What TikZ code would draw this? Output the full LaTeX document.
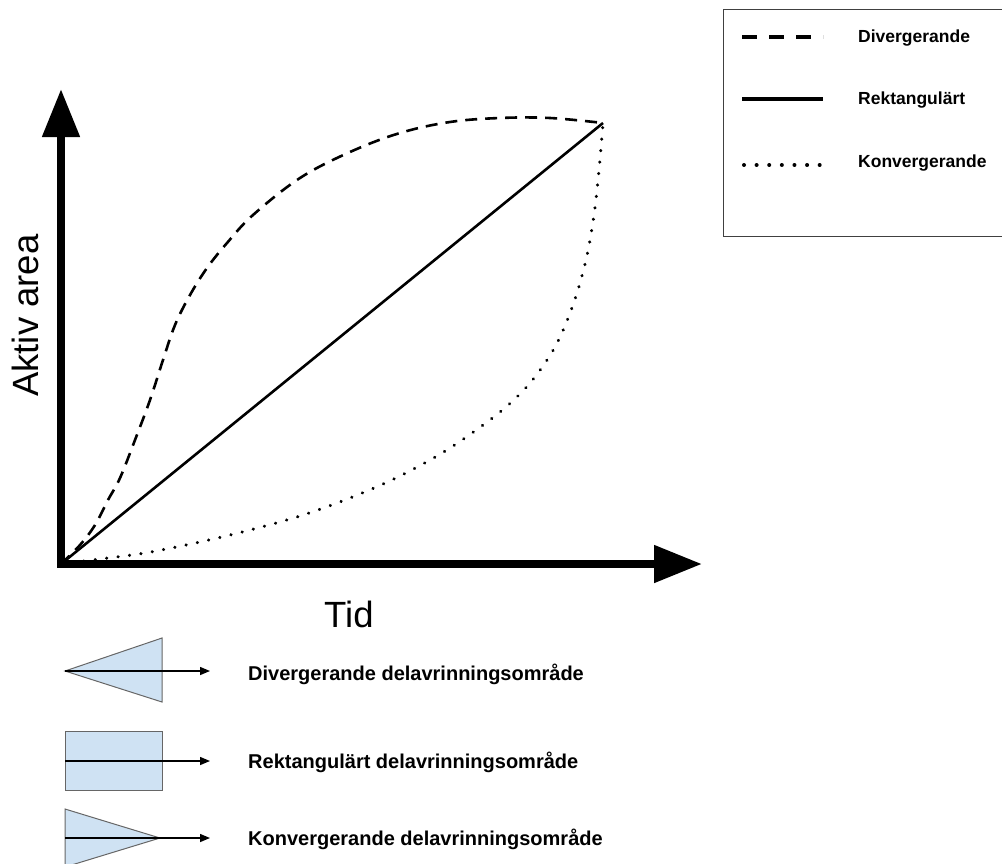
\documentclass[tikz,border=0pt]{standalone}
\usepackage{fontspec}
\setmainfont{Liberation Sans}
\usetikzlibrary{arrows.meta}
\definecolor{shapefill}{HTML}{CFE2F3}
\definecolor{shapeline}{HTML}{666666}
\tikzset{
  axisline/.style={line width=8pt, line join=miter,
    {Triangle[length=48pt,width=36pt]}-{Triangle[length=48pt,width=36pt]}},
  curve/.style={line width=2.6pt},
  divcurve/.style={curve, dash pattern=on 12pt off 8pt},
  konvcurve/.style={line width=3.4pt, line cap=round, dash pattern=on 0.01pt off 11.5pt},
  legdash/.style={line width=4pt, dash pattern=on 15pt off 12pt},
  legsolid/.style={line width=4pt},
  legdot/.style={line width=4pt, line cap=round, dash pattern=on 0.01pt off 12.6pt},
  legtext/.style={anchor=base west, inner sep=0pt, font=\bfseries\fontsize{17.5}{20}\selectfont},
  captext/.style={anchor=base west, inner sep=0pt, font=\bfseries\fontsize{20}{23}\selectfont},
  axistext/.style={anchor=base west, inner sep=0pt, font=\fontsize{36.5}{40}\selectfont},
  catchment/.style={fill=shapefill, draw=shapeline, line width=1pt},
  flow/.style={line width=1.4pt, -{Triangle[length=10pt,width=8pt]}}
}
\begin{document}
\begin{tikzpicture}[x=1pt, y=-1pt]
\useasboundingbox (0,0) rectangle (1002,863);

% axes
\coordinate (O) at (61,564);
\coordinate (Ytip) at (61,89);
\coordinate (Xtip) at (702,564);
\coordinate (E) at (603,123);
\draw[axisline] (Ytip) -- (O) -- (Xtip);

% the three area curves
\draw[curve] (O) -- (E);
\draw[divcurve] plot[smooth, tension=0.6] coordinates {
  (61,564) (80,545) (95,525) (108,500) (120,478) (135,440) (150,400)
  (163,360) (175,325) (190,295) (207,268) (227,243) (253,215)
  (300,178) (350,152) (400,133) (450,122) (500,118) (550,118) (603,123)};
\draw[konvcurve] plot[smooth, tension=0.55] coordinates {
  (61,564) (100,559) (145,553) (200,542) (250,530) (300,516) (350,498)
  (400,476) (450,448) (500,412) (530,383) (555,347) (573,305) (586,260)
  (594,215) (599,170) (603,123)};

% axis labels
\node[axistext, rotate=90] (ylab) at (38,397) {Aktiv area};
\node[axistext] (xlab) at (324,627) {Tid};

% legend
\draw[line width=1pt, draw=black!75] (723,9) rectangle (1012,236);
\coordinate (l1a) at (742,37);  \coordinate (l1b) at (823,37);
\coordinate (l2a) at (742,99);  \coordinate (l2b) at (823,99);
\coordinate (l3a) at (744,165); \coordinate (l3b) at (823,165);
\draw[legdash] (l1a) -- (l1b);
\draw[legsolid] (l2a) -- (l2b);
\draw[legdot] (l3a) -- (l3b);
\node[legtext] (leg1) at (858,42) {Divergerande};
\node[legtext] (leg2) at (858,104) {Rektangulärt};
\node[legtext] (leg3) at (858,167) {Konvergerande};

% catchment shapes
\draw[catchment] (65,671) -- (162,638) -- (162,702) -- cycle;
\draw[catchment] (65,731) rectangle (162,790);
\draw[catchment] (65,809) -- (160,838) -- (65,867) -- cycle;
\coordinate (a1) at (65,671);  \coordinate (b1) at (210,671);
\coordinate (a2) at (65,761);  \coordinate (b2) at (210,761);
\coordinate (a3) at (65,838);  \coordinate (b3) at (210,838);
\draw[flow] (a1) -- (b1);
\draw[flow] (a2) -- (b2);
\draw[flow] (a3) -- (b3);
\node[captext] (cap1) at (248,680) {Divergerande delavrinningsområde};
\node[captext] (cap2) at (248,768) {Rektangulärt delavrinningsområde};
\node[captext] (cap3) at (248,845) {Konvergerande delavrinningsområde};
\end{tikzpicture}
\end{document}
